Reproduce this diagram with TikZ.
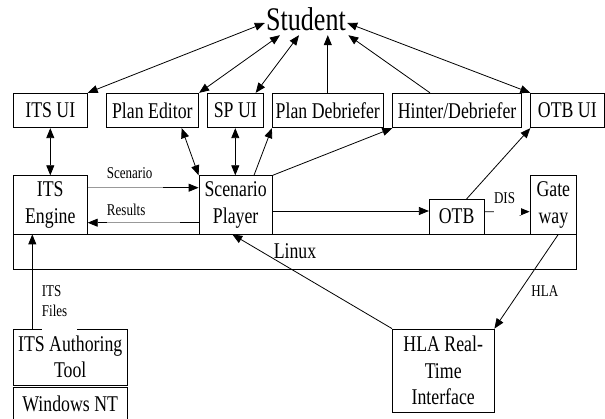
\documentclass[tikz,border=0pt]{standalone}
\usepackage{fontspec}
\setmainfont{Liberation Serif}[FakeStretch=0.79]
\usetikzlibrary{arrows.meta}
\begin{document}
\begin{tikzpicture}[x=1pt,y=-1pt,
  box/.style={draw,line width=0.8pt,inner sep=0pt,align=center,font=\fontsize{22.5}{26.5}\selectfont},
  lbl/.style={inner sep=0pt,font=\fontsize{16.5}{20}\selectfont},
  conn/.style={line width=0.8pt,-{Triangle[length=10pt,width=8pt]}},
  both/.style={line width=0.8pt,{Triangle[length=10pt,width=8pt]}-{Triangle[length=10pt,width=8pt]}}]
\useasboundingbox (0,0) rectangle (605,419);
% nodes
\node[inner sep=0pt,minimum width=82pt,minimum height=32pt,font=\fontsize{33}{36}\selectfont] (student) at (306,19) {Student};
\node[box,minimum width=74pt,minimum height=34.5pt] (itsui) at (50.3,110.5) {ITS UI};
\node[box,minimum width=92.7pt,minimum height=34.5pt] (pe) at (152.35,110.5) {Plan Editor};
\node[box,minimum width=56pt,minimum height=34.5pt] (spui) at (235.3,110.5) {SP UI};
\node[box,minimum width=111pt,minimum height=34.5pt] (pd) at (327.8,110.5) {Plan Debriefer};
\node[box,minimum width=128.8pt,minimum height=34.5pt] (hint) at (457.1,110.5) {Hinter/Debriefer};
\node[box,minimum width=73.3pt,minimum height=34.5pt] (otbui) at (567.35,110.5) {OTB UI};
\node[box,minimum width=563.4pt,minimum height=35pt] (linux) at (295,251.5) {Linux};
\node[box,minimum width=74pt,minimum height=58.3pt] (itseng) at (50.3,204.85) {ITS\\Engine};
\node[box,minimum width=73.3pt,minimum height=58.3pt] (sp) at (235.65,204.85) {Scenario\\Player};
\node[box,minimum width=54.7pt,minimum height=34.7pt] (otb) at (456.65,216.65) {OTB};
\node[box,minimum width=46.7pt,minimum height=58.3pt] (gw) at (553.35,204.85) {Gate\\way};
\node[box,minimum width=113.7pt,minimum height=56pt] (auth) at (70.2,357) {ITS Authoring\\Tool};
\node[box,minimum width=113.7pt,minimum height=35pt] (win) at (70.2,404.5) {\raisebox{2.5pt}{Windows NT}};
\node[box,minimum width=101.6pt,minimum height=83pt] (hla) at (443.2,370.5) {HLA Real-\\Time\\Interface};
% student connections
\draw[both] ([yshift=-4pt]student.west) -- (itsui.north east);
\draw[both] ([xshift=-26pt]student.south) -- (pe.north east);
\draw[both] ([xshift=-7pt]student.south) -- ([xshift=-8pt]spui.north east);
\draw[conn] (pd.north) -- (pd.north |- student.south);
\draw[conn] ([xshift=-27.1pt]hint.north) -- ([xshift=42.3pt]student.south);
\draw[both] ([yshift=-4pt]student.east) -- (otbui.north west);
% middle connections
\draw[both] (itsui.south) -- (itseng.north);
\draw[both] ([xshift=29.35pt]pe.south) -- (sp.north west);
\draw[both] (spui.south) -- (spui.south |- sp.north);
\draw[conn] ([xshift=18.35pt]sp.north) -- (pd.south west);
\draw[conn] (sp.north east) -- (hint.south west);
\draw[conn] ([xshift=10pt]otb.north) -- (otbui.south west);
\draw[conn] ([yshift=17.15pt]itseng.east) -- node[lbl,pos=0.342,anchor=base,yshift=8.7pt,fill=white,fill opacity=0.6,text opacity=1,text width=75pt,align=left,text height=11pt,text depth=13pt] (lscen) {\hspace*{18.7pt}Scenario} ([yshift=17.15pt]sp.west);
\draw[conn] ([yshift=-17.85pt]sp.west) -- node[lbl,pos=0.497,anchor=base,yshift=7pt,fill=white,fill opacity=0.6,text opacity=1,text width=73pt,align=left,text height=11pt,text depth=9pt] (lres) {Results} ([yshift=-17.85pt]itseng.east);
\draw[conn] ([yshift=-6.15pt]sp.east) -- ([yshift=5.65pt]otb.west);
\draw[conn] ([yshift=4.95pt]otb.east) -- node[lbl,pos=0.511,anchor=base,yshift=8.4pt,fill=white,text width=27pt,align=left,text height=12pt,text depth=12pt] (ldis) {DIS} ([yshift=-6.85pt]gw.west);
% lower connections
\draw[conn] (hla.north west) -- ([xshift=-3.35pt]sp.south);
\draw[conn] ([xshift=4.95pt]gw.south) -- node[lbl,pos=0.606,xshift=25.2pt] (lhla) {HLA} (hla.north east);
\draw[conn] ([xshift=-37.9pt]auth.north) -- ([xshift=-18pt]itseng.south);
\node[lbl,fill=white,anchor=north west,text height=13.7pt,text depth=34.3pt] (itsfiles) at (41.7,283) {\begin{tabular}[t]{@{}l@{}}ITS\\Files\end{tabular}\hspace*{10pt}};
\end{tikzpicture}
\end{document}
